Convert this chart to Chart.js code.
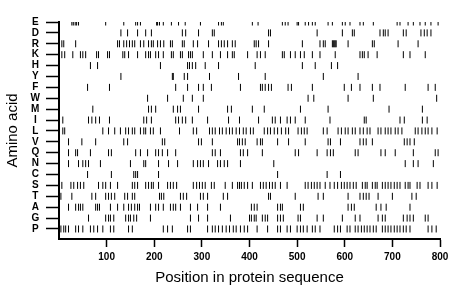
<!DOCTYPE html>
<html>
<head>
<meta charset="utf-8">
<script src="https://cdn.jsdelivr.net/npm/chart.js@4.4.1/dist/chart.umd.min.js"></script>
<style>
  html, body { margin: 0; padding: 0; background: #fff; }
  #wrap { width: 460px; height: 299px; }
</style>
</head>
<body>
<div id="wrap"><canvas id="myChart" width="460" height="299"></canvas></div>
<script>
// Amino acid rows, top to bottom
const aminoAcids = ['E','D','R','K','H','Y','F','W','M','I','L','V','Q','N','C','S','T','A','G','P'];

// Residue positions for each amino acid
const posE = [27,30,34,37,41,98,136,161,165,171,205,207,211,219,236,251,265,297,335,341,345,406,418,469,475,481,500,503,517,524,532,538,565,574,595,601,611,632,639,660,710,716,733,744,758,769,781,796];
const posD = [130,144,165,182,194,259,266,293,322,326,440,444,542,595,616,620,674,681,685,691,723,729,760,767,773,781];
const posR = [6,10,35,123,127,136,142,148,154,159,171,178,188,194,198,207,213,220,234,238,259,263,282,291,314,335,341,347,354,364,370,410,414,419,440,511,548,555,559,574,576,578,580,582,607,658,662,712,754];
const posK = [6,12,29,45,50,56,79,83,102,106,134,138,146,165,182,188,192,203,209,219,236,240,255,259,272,276,280,303,322,339,354,364,368,396,416,423,433,469,473,486,496,507,515,532,548,580,632,637,641,649,668,723,737,769];
const posH = [66,81,213,270,274,280,287,307,335,412,511,538,572,585];
const posY = [130,238,240,263,270,316,377,433,555,628];
const posF = [60,106,245,270,293,303,320,381,423,427,433,440,446,481,488,532,599,614,632,658,674,727,775,790];
const posW = [186,228,261,280,303,523,535,607,660,793];
const posM = [71,188,194,203,240,249,255,293,354,362,406,431,507,565,693,763];
const posI = [8,62,69,77,85,106,178,184,194,245,251,259,266,280,312,356,379,419,448,454,465,479,486,496,517,569,641,645,716,725,763,773];
const posL = [8,12,92,104,117,129,140,146,154,159,171,178,182,192,198,213,253,282,289,316,322,328,337,343,351,358,364,372,379,387,393,402,408,431,438,444,452,459,467,476,482,502,509,515,521,555,563,586,593,601,607,616,622,632,639,647,653,670,676,685,691,697,706,712,720,748,754,762,769,775,783,794];
const posV = [20,48,77,136,144,217,222,293,299,322,375,379,385,391,416,423,427,459,482,517,565,570,591,632,639,645,658,725,731,737,746];
const posQ = [20,35,39,66,104,110,161,171,186,203,209,217,228,245,322,328,339,381,387,396,427,496,503,542,563,570,576,622,628,676,685,706,744,790,796];
const posN = [20,41,50,56,62,87,150,178,182,209,230,249,282,291,297,303,314,333,339,347,354,381,451,727,744,754,786];
const posC = [60,110,157,161,165,209,459,563,591];
const posS = [6,25,31,39,45,52,83,92,98,108,123,154,159,165,182,188,194,198,209,228,234,240,247,282,289,295,301,307,320,326,349,364,375,379,383,389,396,406,423,429,435,442,448,454,465,479,517,523,530,536,542,548,559,569,578,585,593,599,605,611,618,624,637,643,647,658,664,668,679,685,691,697,704,710,716,727,733,737,752,758,775,783,794];
const posT = [4,27,69,77,98,104,110,117,138,144,154,159,211,215,220,255,261,268,297,303,312,345,354,440,444,496,544,555,607,632,639,645,651,670,700,741,750];
const posA = [20,35,41,45,50,77,81,85,108,123,136,146,152,159,165,169,192,203,209,219,234,240,245,255,276,291,312,339,404,410,416,459,465,469,507,513,607,614,620,666,676,687,737];
const posG = [62,98,104,108,115,140,146,150,157,163,192,276,293,312,360,400,404,410,414,427,433,438,459,465,471,502,507,542,555,595,622,632,670,679,685,723,731,737,744,769,775];
const posP = [4,10,14,20,35,41,50,66,73,81,92,108,115,146,154,219,228,238,270,276,312,322,328,335,343,351,358,366,372,381,389,396,416,438,459,465,479,486,500,507,513,521,532,538,548,578,585,591,605,611,622,628,635,641,647,653,660,666,679,685,691,697,704,710,716,723,729,737,775,783,792];

const positions = [posE,posD,posR,posK,posH,posY,posF,posW,posM,posI,posL,posV,posQ,posN,posC,posS,posT,posA,posG,posP];

// X axis tick labels
const xTicks = [100, 200, 300, 400, 500, 600, 700, 800];

const datasets = positions.map((list, i) => ({
    label: aminoAcids[i],
    data: list.map(p => ({ x: p, y: i })),
    pointStyle: 'line',
    rotation: 90,
    pointRadius: 3.5,
    pointBorderWidth: 1,
    pointBorderColor: '#000',
    pointBackgroundColor: '#000'
}));

const ctx = document.getElementById('myChart').getContext('2d');

new Chart(ctx, {
    type: 'scatter',
    data: { datasets: datasets },
    options: {
        responsive: false,
        animation: false,
        events: [],
        layout: { padding: { left: 0, right: 20, top: 22, bottom: 0 } },
        plugins: {
            legend: { display: false },
            tooltip: { enabled: false }
        },
        scales: {
            x: {
                type: 'linear',
                min: 0,
                max: 800,
                afterBuildTicks: axis => { axis.ticks = xTicks.map(v => ({ value: v })); },
                afterFit: scale => { scale.height = 60; },
                border: { display: true, color: '#000', width: 2 },
                grid: { drawOnChartArea: false, drawTicks: true, tickLength: 8, color: '#000', tickWidth: 1.5 },
                ticks: {
                    color: '#000',
                    padding: 4,
                    maxRotation: 0,
                    font: { family: 'Liberation Sans', size: 10, weight: 'bold' }
                },
                title: {
                    display: true,
                    text: 'Position in protein sequence',
                    color: '#000',
                    padding: { top: 0, bottom: 12 },
                    font: { family: 'Liberation Sans', size: 15 }
                }
            },
            y: {
                type: 'linear',
                reverse: true,
                min: 0,
                max: 19.92,
                afterBuildTicks: axis => { axis.ticks = aminoAcids.map((a, i) => ({ value: i })); },
                afterFit: scale => { scale.width = 59; },
                border: { display: true, color: '#000', width: 2 },
                grid: { drawOnChartArea: false, drawTicks: true, tickLength: 13, color: '#000', tickWidth: 1.5 },
                ticks: {
                    color: '#000',
                    padding: 6,
                    crossAlign: 'center',
                    autoSkip: false,
                    callback: v => aminoAcids[v],
                    font: { family: 'Liberation Sans', size: 10, weight: 'bold' }
                },
                title: {
                    display: true,
                    text: 'Amino acid',
                    color: '#000',
                    padding: { top: 4, bottom: 0 },
                    font: { family: 'Liberation Sans', size: 15 }
                }
            }
        }
    }
});
</script>
</body>
</html>
